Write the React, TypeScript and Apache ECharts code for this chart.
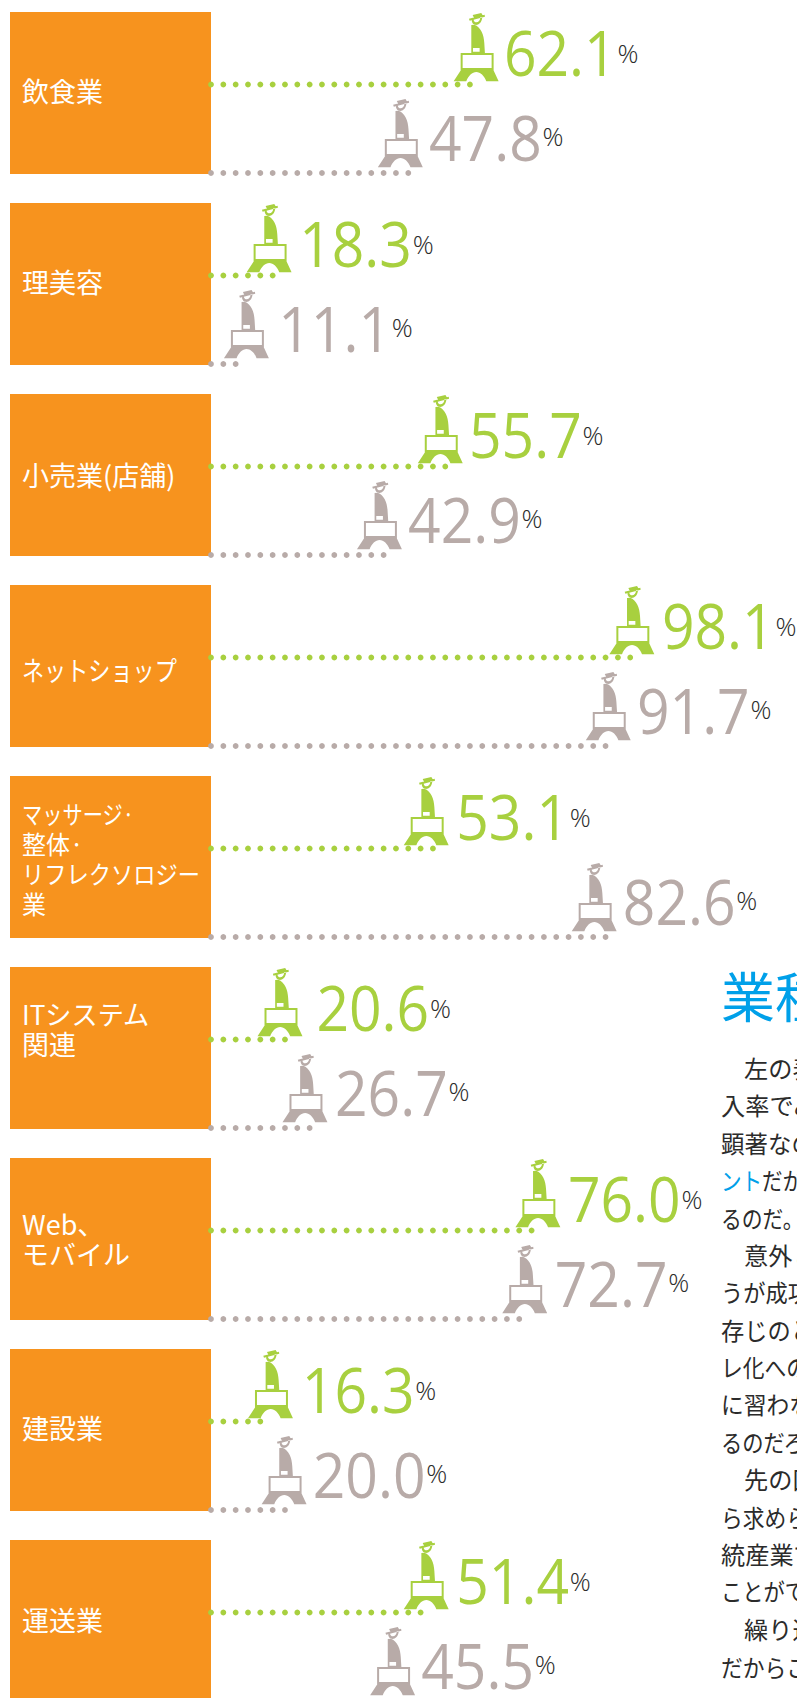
import React, { useEffect, useRef } from "react";
import * as echarts from "echarts";

// ---------- data ----------
const categories = ["飲食業", "理美容", "小売業(店舗)", "ネットショップ", "マッサージ·\n整体·\nリフレクソロジー\n業", "ITシステム\n関連", "Web、\nモバイル", "建設業", "運送業"];
const greenValues = [62.1, 18.3, 55.7, 98.1, 53.1, 20.6, 76.0, 16.3, 51.4];
const greyValues = [47.8, 11.1, 42.9, 91.7, 82.6, 26.7, 72.7, 20.0, 45.5];
// where the artwork stands each figure, on the chart's percent axis
const greenDrawnAt = [63.8, 18.2, 55.9, 98.1, 52.8, 20.6, 77.4, 18.5, 52.8];
const greyDrawnAt = [47.1, 13.2, 42.5, 92.9, 89.8, 26.1, 74.5, 21.5, 45.4];
// gap between figure and number, in the same units
const greenGaps = [6.0, 6.5, 6.2, 6.5, 6.5, 7.9, 6.5, 6.8, 6.5];
const greyGaps = [6.2, 6.9, 6.2, 6.2, 6.2, 6.5, 6.5, 6.2, 6.2];
// dots in each dotted leader
const greenDots = [22, 6, 20, 35, 19, 7, 27, 5, 18];
const greyDots = [17, 3, 15, 33, 33, 9, 26, 7, 16];
const labelSizes = [27, 27, 27, 27, 25, 27, 27, 27, 27];
const labelSqueeze = [[1], [1], [1], [0.82], [0.81, 0.96, 0.89, 0.96], [0.97, 1], [1, 1], [1], [1]];
const labelShift = [-2, -2, 0, 3, 2, -19.5, 0, -2, -1];

const heading = "業種";
const bodyLines = [
  "　左の表", "入率でみ", "顕著なの", "", "るのだ。", "　意外と", "うが成功", "存じのと", "レ化への",
  "に習わな", "るのだろ", "　先の図", "ら求めら", "統産業で", "ことがで", "　繰り返", "だからこ",
];
const bodySqueeze = [1, 1, 0.97, 1, 0.86, 1, 0.92, 0.96, 0.9, 0.94, 0.88, 1, 0.9, 1, 0.88, 1, 0.9];
const bodyBlue = "ント";
const bodyAfterBlue = "だか";

const GREEN = "#A8D03F";
const GREY = "#B8ABA8";
const ORANGE = "#F7931E";
const BLUE = "#00A0E9";
const INK = "#2b2b2b";

const figureSolid =
  "M46 17L93 5L94 11L48 23ZM57 6L83 0L88 8L61 14Z" +
  "M54 21C54 42 84 42 86 12L80 13C80 30 62 33 60 20Z" +
  "M53 36L62 35C82 42 91 65 92 90L94 122L53 122Z" +
  "M21 120L120 120L120 172L21 172Z" +
  "M24 168L118 168L135 205L98 205C92 188 80 177 68 177C56 177 44 188 38 205L0 205Z";
const figureHollow = "M27 126L114 126L114 165L27 165ZM58 105L78 105L78 116L58 116Z";
echarts.graphic.registerShape("figureSolid", echarts.graphic.extendPath(figureSolid, {}));
echarts.graphic.registerShape("figureHollow", echarts.graphic.extendPath(figureHollow, {}));

const GRID_LEFT = 187;
const UNIT = 4.54;
const PANEL_LEFT = 10;
const PANEL_RIGHT = 211;
const PANEL_H = 162;
const DOT_STEP = 12.33;
const NUM_FONT = '"Open Sans", sans-serif';
const CJK = '"Noto Sans CJK JP", sans-serif';

function rowSeries(name: string, color: string, values: number[], at: number[], gaps: number[], dots: number[], rel: { figure: number; number: number; pct: number; dots: number }) {
  return {
    type: "custom",
    name,
    silent: true,
    clip: false,
    data: values.map((v, i) => [at[i], i, gaps[i], dots[i], v]),
    encode: { x: 0, y: 1 },
    renderItem: (_p: any, api: any) => {
      const [fx, cy] = api.coord([api.value(0), api.value(1)]);
      const band = api.size([0, 1])[1];
      const top = cy - band / 2;
      const gap = api.value(2) * UNIT;
      const n = api.value(3);
      const text = Number(api.value(4)).toFixed(1);
      const children: any[] = [];
      for (let k = 0; k < n; k++) {
        children.push({ type: "circle", shape: { cx: PANEL_RIGHT + k * DOT_STEP, cy: top + rel.dots, r: 2.9 }, style: { fill: color } });
      }
      children.push({ type: "figureSolid", x: fx - 23, y: top + rel.figure, scaleX: 1 / 3, scaleY: 1 / 3, style: { fill: color } });
      children.push({ type: "figureHollow", x: fx - 23, y: top + rel.figure, scaleX: 1 / 3, scaleY: 1 / 3, style: { fill: "#fff" } });
      children.push({
        type: "text", x: fx + gap, y: top + rel.number, scaleX: 0.92,
        style: { text, x: 0, y: 0, fill: color, font: `400 62px ${NUM_FONT}`, align: "left", verticalAlign: "middle" },
      });
      children.push({
        type: "text", x: fx + gap + 113.5, y: top + rel.pct,
        style: { text: "%", x: 0, y: 0, fill: INK, font: `300 26px ${NUM_FONT}`, align: "left", verticalAlign: "middle" },
      });
      return { type: "group", children };
    },
  };
}

const panelSeries = {
  type: "custom",
  name: "categories",
  silent: true,
  clip: false,
  data: categories.map((_c, i) => [0, i]),
  encode: { x: 0, y: 1 },
  renderItem: (p: any, api: any) => {
    const i = p.dataIndex;
    const cy = api.coord([0, i])[1];
    const top = cy - api.size([0, 1])[1] / 2;
    const lines = categories[i].split("\n");
    const mid = top + 80.5 + labelShift[i];
    const children: any[] = [
      { type: "rect", shape: { x: PANEL_LEFT, y: top, width: PANEL_RIGHT - PANEL_LEFT, height: PANEL_H }, style: { fill: ORANGE } },
    ];
    lines.forEach((line, k) => {
      children.push({
        type: "text", x: 22, y: mid + (k - (lines.length - 1) / 2) * 30, scaleX: labelSqueeze[i][k],
        style: { text: line, x: 0, y: 0, fill: "#fff", font: `400 ${labelSizes[i]}px ${CJK}`, align: "left", verticalAlign: "middle" },
      });
    });
    return { type: "group", children };
  },
};

export default function App() {
  const ref = useRef<HTMLDivElement>(null);
  useEffect(() => {
    document.body.style.margin = "0";
    document.documentElement.style.overflow = "hidden";
    const chart = echarts.init(ref.current!, null, { renderer: "svg" });
    const bodyEls: any[] = [];
    bodyLines.forEach((t, k) => {
      const y = 1067 + k * 37.45;
      if (t) {
        const indent = t.startsWith("　");
        bodyEls.push({
          type: "text", x: indent ? 744 : 721, y, scaleX: bodySqueeze[k],
          style: { text: t.replace("　", ""), fill: INK, font: `400 24.2px ${CJK}`, align: "left", verticalAlign: "middle" },
        });
      } else {
        bodyEls.push({ type: "text", x: 721, y, scaleX: 0.85, style: { text: bodyBlue, fill: BLUE, font: `400 24.2px ${CJK}`, align: "left", verticalAlign: "middle" } });
        bodyEls.push({ type: "text", x: 762, y, scaleX: 0.85, style: { text: bodyAfterBlue, fill: INK, font: `400 24.2px ${CJK}`, align: "left", verticalAlign: "middle" } });
      }
    });
    chart.setOption({
      animation: false,
      backgroundColor: "#fff",
      grid: { left: GRID_LEFT, top: 12, width: 797 - GRID_LEFT, height: 191 * categories.length, outerBoundsMode: "none" },
      xAxis: { type: "value", min: 0, max: (797 - GRID_LEFT) / UNIT, show: false },
      yAxis: { type: "category", inverse: true, data: categories, show: false },
      graphic: {
        elements: [
          { type: "text", x: 721, y: 994, style: { text: heading, fill: BLUE, font: `400 54px ${CJK}`, align: "left", verticalAlign: "middle" } },
          ...bodyEls,
        ],
      },
      series: [
        panelSeries,
        rowSeries("green", GREEN, greenValues, greenDrawnAt, greenGaps, greenDots, { figure: 1, number: 40, pct: 41, dots: 72.5 }),
        rowSeries("grey", GREY, greyValues, greyDrawnAt, greyGaps, greyDots, { figure: 87, number: 124.5, pct: 124, dots: 161 }),
      ],
    });
    return () => chart.dispose();
  }, []);
  return <div ref={ref} style={{ width: 797, height: 1698, display: "block" }} />;
}
